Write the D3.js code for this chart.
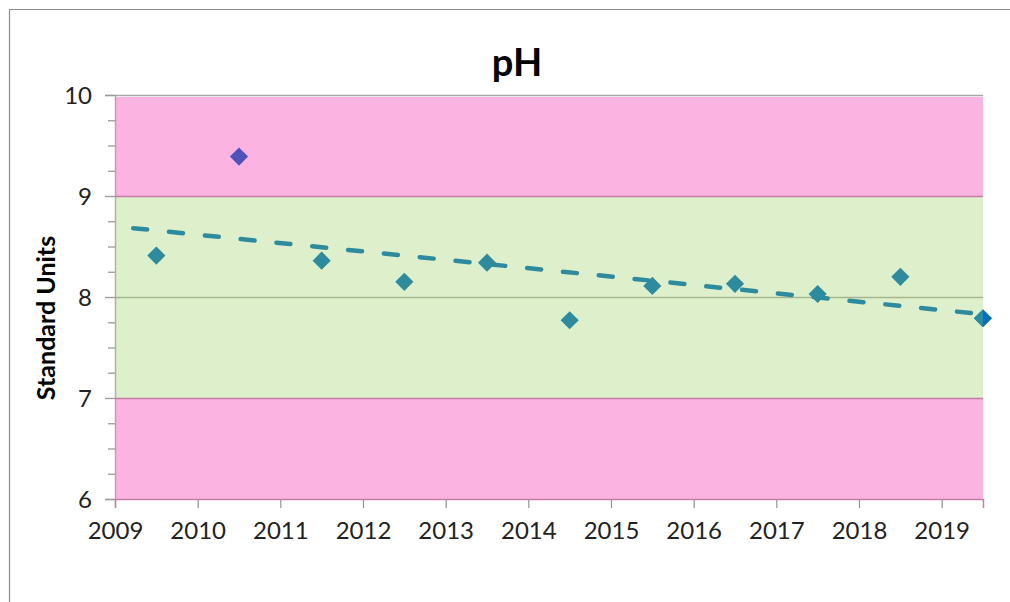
<!DOCTYPE html>
<html>
<head>
<meta charset="utf-8">
<script src="https://cdn.jsdelivr.net/npm/d3@7"></script>
<style>
  body { margin: 0; background: #fff; }
  svg { display: block; font-family: Lato, "Open Sans", sans-serif; }
</style>
</head>
<body>
<div id="chart"></div>
<script>
// sample years (points sit mid-year) and pH readings
const years = [2009.5, 2010.5, 2011.5, 2012.5, 2013.5, 2014.5, 2015.5, 2016.5, 2017.5, 2018.5, 2019.5];
const phValues = [8.41, 9.39, 8.36, 8.15, 8.34, 7.77, 8.11, 8.13, 8.03, 8.20, 7.79];
const xTicks = [2009, 2010, 2011, 2012, 2013, 2014, 2015, 2016, 2017, 2018, 2019];
const yTicks = [6, 7, 8, 9, 10];
// acceptable range band and out-of-range bands
const goodRange = [7, 9];
const trendStart = 2009.22;

let width = 1010, height = 602;
let plot = {left: 115, right: 983, top: 95, bottom: 499};
let font = "Lato, 'Open Sans', sans-serif";

let x = d3.scaleLinear().domain([2009, 2019.5]).range([plot.left, plot.right]);
let y = d3.scaleLinear().domain([6, 10]).range([plot.bottom, plot.top]);

const data = years.map((yr, i) => ({year: yr, value: phValues[i]}));

const svg = d3.select("#chart").append("svg")
  .attr("width", width)
  .attr("height", height);

// chart frame (only top + left edge visible)
svg.append("path")
  .attr("d", "M9.5,602 L9.5,9.5 L1010,9.5")
  .attr("fill", "none")
  .attr("stroke", "#8c8c8c")
  .attr("stroke-width", 1.2);

svg.append("defs").append("clipPath").attr("id", "plotclip")
  .append("rect")
  .attr("x", plot.left).attr("y", plot.top)
  .attr("width", plot.right - plot.left).attr("height", plot.bottom - plot.top);

// bands
const bands = [
  {lo: goodRange[1], hi: 10, fill: "#fbb4e1"},
  {lo: goodRange[0], hi: goodRange[1], fill: "#ddefcb"},
  {lo: 6, hi: goodRange[0], fill: "#fbb4e1"}
];
svg.append("g").selectAll("rect")
  .data(bands)
  .enter().append("rect")
  .attr("x", plot.left)
  .attr("y", d => y(d.hi) + (d.hi === 10 ? 2 : 0))
  .attr("width", plot.right - plot.left)
  .attr("height", d => y(d.lo) - y(d.hi) - (d.hi === 10 ? 2 : 0))
  .attr("fill", d => d.fill);

// gridlines
svg.append("g").selectAll("line")
  .data(yTicks.filter(t => t > 6))
  .enter().append("line")
  .attr("x1", plot.left).attr("x2", plot.right)
  .attr("y1", d => Math.round(y(d)) + 0.5).attr("y2", d => Math.round(y(d)) + 0.5)
  .attr("stroke", d => (d === goodRange[0] || d === goodRange[1]) ? "#c57ba6" : (d === 10 ? "#a6a6a6" : "#a8b68e"))
  .attr("stroke-width", 1.6);

// y axis with minor ticks
const yMinor = d3.range(6, 10.001, 0.25).filter(v => !yTicks.includes(v));
svg.append("g")
  .attr("transform", "translate(" + plot.left + ",0)")
  .call(d3.axisLeft(y).tickValues(yMinor).tickSize(7).tickFormat(""))
  .call(g => g.select(".domain").remove())
  .call(g => g.selectAll("line").attr("stroke", "#9a9a9a").attr("stroke-width", 1.3));

const yAxis = svg.append("g")
  .attr("transform", "translate(" + plot.left + ",0)")
  .call(d3.axisLeft(y).tickValues(yTicks).tickSize(10).tickPadding(13).tickFormat(d3.format("d")))
  .attr("font-family", font);
yAxis.select(".domain").attr("stroke", "#9a9a9a").attr("stroke-opacity", 0.7).attr("stroke-width", 1.5);
yAxis.selectAll("line").attr("stroke", "#9a9a9a").attr("stroke-width", 1.3);
yAxis.selectAll("text").attr("font-size", 24).attr("fill", "#222").attr("dy", "0.34em");

const xAxis = svg.append("g")
  .attr("transform", "translate(0," + plot.bottom + ")")
  .call(d3.axisBottom(x).tickValues(xTicks).tickSize(9).tickPadding(14).tickFormat(d3.format("d")))
  .attr("font-family", font);
xAxis.select(".domain").attr("stroke", "#c57ba6").attr("stroke-width", 1.5);
xAxis.selectAll("line").attr("stroke", "#9a9a9a").attr("stroke-width", 1.3);
xAxis.selectAll("text").attr("font-size", 24).attr("fill", "#222");

// trendline: least squares fit of the readings
const mx = d3.mean(data, d => d.year), my = d3.mean(data, d => d.value);
const slope = d3.sum(data, d => (d.year - mx) * (d.value - my)) / d3.sum(data, d => (d.year - mx) ** 2);
const trend = yr => my + slope * (yr - mx);
const trendPts = [trendStart, x.domain()[1]].map(yr => ({year: yr, value: trend(yr)}));

// latest reading highlighted underneath
const latest = data[data.length - 1];
const diamond = d3.symbol().type(d3.symbolSquare).size(165);
svg.append("path")
  .attr("d", diamond)
  .attr("transform", "translate(" + x(latest.year) + "," + y(latest.value) + ") rotate(45)")
  .attr("fill", "#0070c0");

const inner = svg.append("g").attr("clip-path", "url(#plotclip)");

inner.append("path")
  .datum(trendPts)
  .attr("d", d3.line().x(d => x(d.year)).y(d => y(d.value)))
  .attr("fill", "none")
  .attr("stroke", "#2e8b9d")
  .attr("stroke-width", 4.5)
  .attr("stroke-linecap", "round")
  .attr("stroke-dasharray", "14 22");

inner.selectAll(".pt")
  .data(data)
  .enter().append("path")
  .attr("class", "pt")
  .attr("d", diamond)
  .attr("transform", d => "translate(" + x(d.year) + "," + y(d.value) + ") rotate(45)")
  .attr("fill", d => d.value > goodRange[1] ? "#4f52b9" : "#2e8b9d");

svg.append("text")
  .text("pH")
  .attr("x", 517)
  .attr("y", 76)
  .attr("text-anchor", "middle")
  .attr("font-weight", "bold")
  .attr("font-size", 38)
  .attr("fill", "#000");

svg.append("text")
  .text("Standard Units")
  .attr("transform", "translate(55,318) rotate(-90)")
  .attr("text-anchor", "middle")
  .attr("font-weight", "bold")
  .attr("font-size", 25)
  .attr("fill", "#000");
</script>
</body>
</html>
